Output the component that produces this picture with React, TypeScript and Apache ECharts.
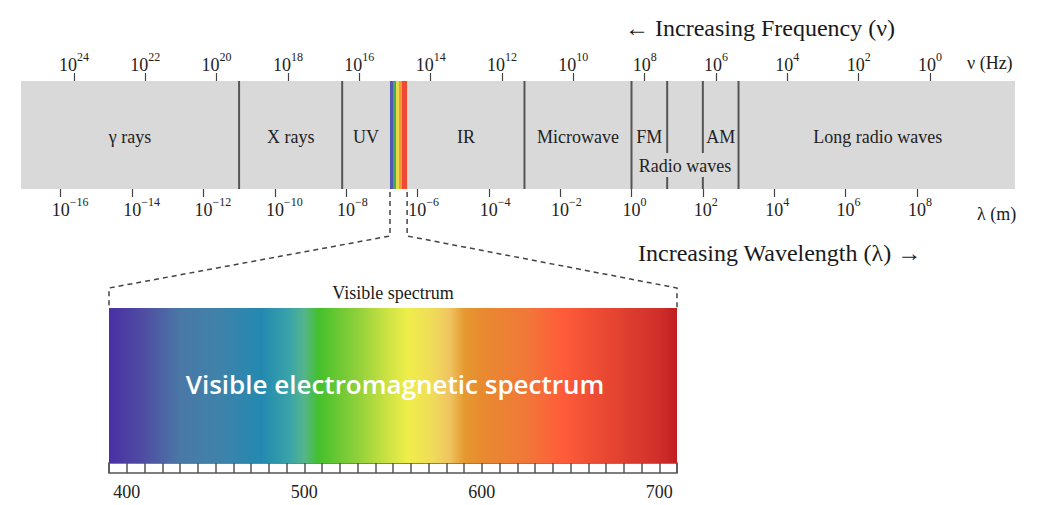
import React, { useEffect, useRef } from 'react';
import * as echarts from 'echarts';

const SERIF = '"Liberation Serif", "Times New Roman", serif';
const SANS = '"Open Sans", "Noto Sans", sans-serif';

// log10 of wavelength (m) ticks, bottom axis
const wavelengthTicks = [-16, -14, -12, -10, -8, -6, -4, -2, 0, 2, 4, 6, 8];
// log10 of frequency (Hz) ticks, top axis
const frequencyTicks = [24, 22, 20, 18, 16, 14, 12, 10, 8, 6, 4, 2, 0];

// region boundaries in log10 λ (m)
const fullDividers = [-11, -8.11, -3, 0, 3];
const radioDividers = [1, 2];
const visibleRange = [-6.77, -6.29];

const bandNames = ['γ rays', 'X rays', 'UV', 'IR', 'Microwave', 'FM', 'AM', 'Long radio waves', 'Radio waves'];
const bandCenters = [-14.06, -9.55, -7.44, -4.64, -1.5, 0.5, 2.5, 6.9, 1.5];
const bandLevels = [0.48, 0.48, 0.48, 0.48, 0.48, 0.48, 0.48, 0.48, 0.216];

// rainbow strip in the main band
const stripStops = [0, 0.2, 0.36, 0.52, 0.7, 1];
const stripColors = ['#5259b0', '#4aa85a', '#e9d94a', '#f39a36', '#ee4a34'];

// visible spectrum (nm)
const spectrumNm = [390, 410, 430, 452, 476, 492, 500, 508, 530, 545, 558, 572, 582, 590, 600, 625, 645, 670, 700, 710];
const spectrumColors = ['#4a2fa5', '#4f4ea2', '#4a78a6', '#3f82aa', '#2389b0', '#3aa4a8', '#55b48c', '#44c02c', '#8fd03a', '#c6e042', '#eeee4a', '#f0dc58', '#efc462', '#e69a30', '#e88a30', '#f07838', '#ff5c3a', '#e84832', '#cf2f2a', '#c01e20'];
const spectrumMin = 390;
const spectrumMax = 710;
const rulerLabels = [400, 500, 600, 700];

const supRich = {
  b: { fontSize: 18, lineHeight: 20, fontFamily: SERIF, color: '#222' },
  s: { fontSize: 12, lineHeight: 12, padding: [0, 0, 16, 0], fontFamily: SERIF, color: '#222' },
  g1: { width: 6, fontSize: 12, lineHeight: 12 },
  g2: { width: 12.5, fontSize: 12, lineHeight: 12 },
  g3: { width: 19, fontSize: 12, lineHeight: 12 },
};

function supLabel(v: number, pad: boolean) {
  const s = (v < 0 ? '\u2212' : '') + Math.abs(v);
  return (pad ? `{g${s.length}| }` : '') + `{b|10}{s|${s}}`;
}

export default function App() {
  const ref = useRef<HTMLDivElement>(null);
  useEffect(() => {
    if (!ref.current) return;
    const chart = echarts.init(ref.current, undefined, { renderer: 'svg' });
    const option: any = {
      animation: false,
      textStyle: { fontFamily: SERIF },
      grid: [
        { left: 21, top: 81, width: 994, height: 108, show: true, backgroundColor: '#d9d9d9', borderWidth: 0, containLabel: false, outerBoundsMode: 'none' },
        { left: 109, top: 308, width: 568, height: 155, containLabel: false, outerBoundsMode: 'none' },
        { left: 109, top: 463, width: 568, height: 10, show: true, backgroundColor: '#fff', borderColor: '#555', borderWidth: 1.5, containLabel: false, outerBoundsMode: 'none' },
      ],
      xAxis: [
        {
          type: 'value', gridIndex: 0, position: 'bottom', min: -17.113, max: 10.75,
          axisLine: { show: false }, splitLine: { show: false },
          axisTick: { show: true, customValues: wavelengthTicks, length: 8, lineStyle: { color: '#444', width: 1.2 } },
          axisLabel: { show: true, customValues: wavelengthTicks, margin: 11, formatter: (v: number) => supLabel(v, true), rich: supRich },
        },
        {
          type: 'value', gridIndex: 0, position: 'top', inverse: true, min: -2.383, max: 25.484,
          axisLine: { show: false }, splitLine: { show: false },
          axisTick: { show: true, customValues: frequencyTicks, length: 8, lineStyle: { color: '#444', width: 1.2 } },
          axisLabel: { show: true, customValues: frequencyTicks, margin: 6, formatter: (v: number) => supLabel(v, false), rich: supRich },
        },
        { type: 'value', gridIndex: 1, min: spectrumMin, max: spectrumMax, show: false },
        {
          type: 'value', gridIndex: 2, min: spectrumMin, max: spectrumMax, interval: 10,
          axisLine: { show: false }, axisTick: { show: false },
          splitLine: { show: true, interval: 0, lineStyle: { color: '#555', width: 1.5 } },
          axisLabel: { show: true, customValues: rulerLabels, margin: 10, fontSize: 18, color: '#222', fontFamily: SERIF },
        },
      ],
      yAxis: [0, 1, 2].map((i) => ({ type: 'value', gridIndex: i, min: 0, max: 1, show: false })),
      series: [
        {
          type: 'custom', xAxisIndex: 0, yAxisIndex: 0, silent: true,
          data: [[visibleRange[0], visibleRange[1]]],
          renderItem: (_p: any, api: any) => {
            const a = api.coord([api.value(0), 1]);
            const b = api.coord([api.value(1), 0]);
            return {
              type: 'rect',
              shape: { x: a[0], y: a[1], width: b[0] - a[0], height: b[1] - a[1] },
              style: {
                fill: new echarts.graphic.LinearGradient(0, 0, 1, 0,
                  stripColors.flatMap((c, i) => [
                    { offset: stripStops[i], color: c },
                    { offset: stripStops[i + 1] - 0.001, color: c },
                  ])),
              },
            };
          },
        },
        {
          type: 'custom', xAxisIndex: 0, yAxisIndex: 0, silent: true,
          data: fullDividers.map((v) => [v, 0]),
          renderItem: (_p: any, api: any) => {
            const t = api.coord([api.value(0), 1]);
            const b = api.coord([api.value(0), 0]);
            return { type: 'line', shape: { x1: t[0], y1: t[1], x2: b[0], y2: b[1] }, style: { stroke: '#555', lineWidth: 2 } };
          },
        },
        {
          type: 'custom', xAxisIndex: 0, yAxisIndex: 0, silent: true,
          data: radioDividers.map((v) => [v, 0]),
          renderItem: (_p: any, api: any) => {
            const v = api.value(0);
            const t = api.coord([v, 1]);
            const g1 = api.coord([v, 0.333]);
            const g2 = api.coord([v, 0.111]);
            const b = api.coord([v, 0]);
            const st = { stroke: '#555', lineWidth: 2 };
            return {
              type: 'group',
              children: [
                { type: 'line', shape: { x1: t[0], y1: t[1], x2: g1[0], y2: g1[1] }, style: st },
                { type: 'line', shape: { x1: g2[0], y1: g2[1], x2: b[0], y2: b[1] }, style: st },
              ],
            };
          },
        },
        {
          type: 'custom', xAxisIndex: 0, yAxisIndex: 0, silent: true,
          data: bandCenters.map((c, i) => ({ name: bandNames[i], value: [c, bandLevels[i]] })),
          renderItem: (p: any, api: any) => {
            const pt = api.coord([api.value(0), api.value(1)]);
            return {
              type: 'text', x: pt[0], y: pt[1],
              style: { text: bandNames[p.dataIndex], fill: '#222', fontSize: 18, fontFamily: SERIF, align: 'center', verticalAlign: 'middle' },
            };
          },
        },
        {
          type: 'custom', xAxisIndex: 2, yAxisIndex: 1, silent: true,
          data: [[spectrumMin, spectrumMax]],
          renderItem: (_p: any, api: any) => {
            const a = api.coord([api.value(0), 1]);
            const b = api.coord([api.value(1), 0]);
            return {
              type: 'rect',
              shape: { x: a[0], y: a[1], width: b[0] - a[0], height: b[1] - a[1] },
              style: {
                fill: new echarts.graphic.LinearGradient(0, 0, 1, 0,
                  spectrumNm.map((nm, i) => ({ offset: (nm - spectrumMin) / (spectrumMax - spectrumMin), color: spectrumColors[i] }))),
              },
            };
          },
        },
      ],
    };
    chart.setOption(option);

    const sl = chart.convertToPixel({ xAxisIndex: 0 }, visibleRange[0]) as number;
    const sr = chart.convertToPixel({ xAxisIndex: 0 }, visibleRange[1]) as number;
    const bandBottom = chart.convertToPixel({ yAxisIndex: 0 }, 0) as number;
    const pl = chart.convertToPixel({ xAxisIndex: 2 }, spectrumMin) as number;
    const pr = chart.convertToPixel({ xAxisIndex: 2 }, spectrumMax) as number;
    const pt = chart.convertToPixel({ yAxisIndex: 1 }, 1) as number;
    const kneeY = bandBottom + 47;
    const shoulderY = pt - 20;
    const dash = { stroke: '#444', lineWidth: 1.5, lineDash: [5, 4], fill: 'none' };
    const txt = (text: string, x: number, y: number, size: number, align: string, extra: any = {}) => ({
      type: 'text', x, y, silent: true, z: 100,
      style: { text, fontSize: size, fontFamily: SERIF, fill: '#1a1a1a', align, verticalAlign: 'middle', ...extra },
    });
    chart.setOption({
      graphic: {
        elements: [
          { type: 'polyline', silent: true, z: 100, shape: { points: [[sl, bandBottom + 3], [sl, kneeY], [pl, shoulderY], [pl, pt]] }, style: dash },
          { type: 'polyline', silent: true, z: 100, shape: { points: [[sr, bandBottom + 3], [sr, kneeY], [pr, shoulderY], [pr, pt]] }, style: dash },
          txt('\u2190 Increasing Frequency (\u03bd)', 625, 28, 24, 'left'),
          txt('Increasing Wavelength (\u03bb) \u2192', 638, 253, 24, 'left'),
          txt('\u03bd (Hz)', 967, 63, 18, 'left'),
          txt('\u03bb (m)', 977, 214, 18, 'left'),
          txt('Visible spectrum', (pl + pr) / 2, 293, 18, 'center'),
          txt('Visible electromagnetic spectrum', 395, 384, 26, 'center', { fill: '#ffffff', fontFamily: SANS, fontWeight: 600 }),
        ],
      },
    });
    return () => chart.dispose();
  }, []);
  return <div ref={ref} style={{ position: 'absolute', left: 0, top: 0, width: 1056, height: 505 }} />;
}
